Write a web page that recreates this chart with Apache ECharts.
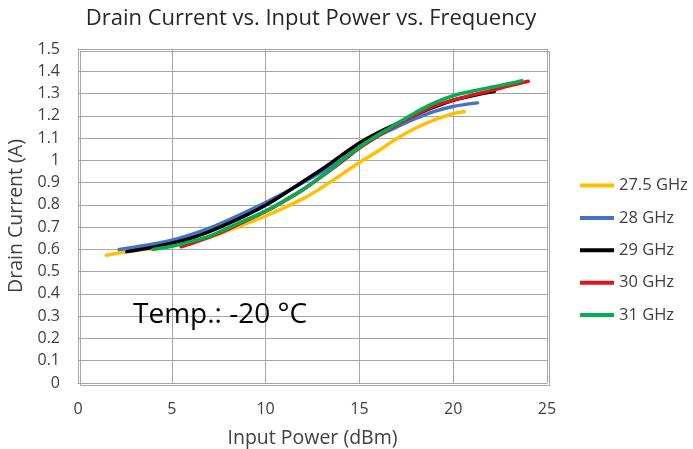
<!DOCTYPE html>
<html>
<head>
<meta charset="utf-8">
<script src="https://cdn.jsdelivr.net/npm/echarts@6/dist/echarts.min.js"></script>
<style>
  html, body { margin: 0; padding: 0; background: #fff; }
  #chart { width: 693px; height: 449px; }
</style>
</head>
<body>
<div id="chart"></div>
<script>
// Drain current (A) against input power (dBm), one curve per frequency
const seriesNames = ['27.5 GHz', '28 GHz', '29 GHz', '30 GHz', '31 GHz'];
const seriesColors = ['#FFC000', '#4472C4', '#000000', '#E0141C', '#00B050'];

const f27_5 = [[1.5,0.574],[3,0.595],[5,0.615],[7,0.655],[8,0.685],[10,0.75],[12,0.828],[13,0.878],[15,0.99],[16,1.042],[17,1.098],[18,1.145],[19,1.182],[20,1.21],[20.6,1.218]];
const f28   = [[2.2,0.6],[3,0.61],[5,0.641],[7,0.695],[8,0.731],[10,0.81],[12,0.9],[14,1.0],[15,1.06],[16,1.11],[17,1.15],[18,1.188],[19,1.22],[20,1.242],[21.3,1.258]];
const f29   = [[2.6,0.59],[4,0.61],[5,0.628],[6,0.65],[7,0.68],[8,0.716],[9,0.755],[10,0.798],[11,0.85],[12,0.905],[13,0.96],[14,1.02],[15,1.078],[16,1.125],[17,1.165],[18,1.205],[19,1.24],[20,1.27],[21,1.29],[22.2,1.31]];
const f30   = [[5.5,0.612],[6,0.625],[7,0.655],[8,0.69],[9,0.73],[10,0.77],[11,0.817],[12,0.868],[13,0.928],[14,0.99],[15,1.055],[16,1.11],[17,1.16],[18,1.205],[19,1.245],[20,1.27],[21,1.293],[22,1.313],[23,1.335],[24,1.355]];
const f31   = [[4,0.6],[5,0.614],[6,0.635],[7,0.66],[8,0.697],[9,0.735],[10,0.773],[11,0.82],[12,0.87],[13,0.93],[14,0.995],[15,1.06],[16,1.115],[17,1.165],[18,1.215],[19,1.258],[20,1.29],[21,1.31],[22,1.328],[23,1.345],[23.65,1.358]];
const seriesData = [f27_5, f28, f29, f30, f31];

const xTicks = { min: 0, max: 25, interval: 5 };
const yTicks = { min: 0, max: 1.5, interval: 0.1 };

const FONT = 'Open Sans';
const TEXT = '#404040';
const GRID = '#a6a6a6';

const chart = echarts.init(document.getElementById('chart'), null, { renderer: 'canvas' });

chart.setOption({
  animation: false,
  backgroundColor: '#fff',
  title: {
    text: 'Drain Current vs. Input Power vs. Frequency',
    left: 306, top: 3, textAlign: 'center',
    textStyle: { fontFamily: FONT, fontSize: 22, fontWeight: 'normal', color: '#262626' }
  },
  grid: { left: 78, right: 146, top: 49, bottom: 66, containLabel: false, outerBoundsMode: 'none' },
  legend: {
    orient: 'vertical',
    left: 580, top: 177, padding: 0,
    itemWidth: 34, itemHeight: 4, itemGap: 15.4,
    icon: 'rect',
    data: seriesNames,
    textStyle: { fontFamily: FONT, fontSize: 16.5, color: TEXT, lineHeight: 16 }
  },
  xAxis: {
    type: 'value',
    min: xTicks.min, max: xTicks.max, interval: xTicks.interval,
    name: 'Input Power (dBm)', nameLocation: 'middle', nameGap: 45,
    nameTextStyle: { fontFamily: FONT, fontSize: 19.5, color: TEXT },
    axisLine: { show: true, lineStyle: { color: GRID, width: 1 } },
    axisTick: { show: false },
    axisLabel: { fontFamily: FONT, fontSize: 16, color: TEXT, margin: 18 },
    splitLine: { show: true, lineStyle: { color: GRID, width: 1 } }
  },
  yAxis: {
    type: 'value',
    min: yTicks.min, max: yTicks.max, interval: yTicks.interval,
    name: 'Drain Current (A)', nameLocation: 'middle', nameGap: 41,
    nameTextStyle: { fontFamily: FONT, fontSize: 19.5, color: TEXT },
    axisLine: { show: true, lineStyle: { color: GRID, width: 1 } },
    axisTick: { show: false },
    axisLabel: { fontFamily: FONT, fontSize: 16, color: TEXT, margin: 18 },
    splitLine: { show: true, lineStyle: { color: GRID, width: 1 } }
  },
  graphic: [{
    type: 'text', left: 133, top: 301, z: 10,
    style: { text: 'Temp.: -20 °C', font: '28px "Open Sans"', fill: '#000' }
  }, {
    // right and top frame of the plot area
    type: 'rect', left: 78, top: 49, z: 0, silent: true,
    shape: { width: 469, height: 334 },
    style: { fill: 'none', stroke: GRID, lineWidth: 1 }
  }],
  series: seriesNames.map((name, i) => ({
    name,
    type: 'line',
    data: seriesData[i],
    smooth: 0.4,
    showSymbol: false,
    symbol: 'none',
    lineStyle: { color: seriesColors[i], width: 3.5, cap: 'round' },
    itemStyle: { color: seriesColors[i] },
    z: 2 + i
  }))
});
</script>
</body>
</html>
